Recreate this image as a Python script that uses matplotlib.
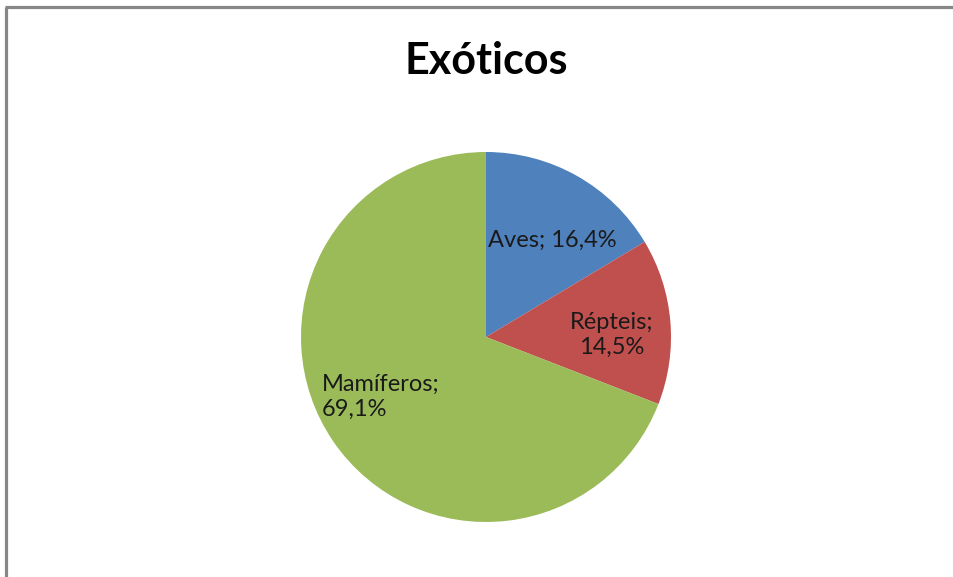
import numpy as np
import matplotlib.pyplot as plt
from matplotlib.lines import Line2D

categorias = ['Aves', 'Répteis', 'Mamíferos']
percentuais = [16.4, 14.5, 69.1]
cores = ['#4F81BD', '#C0504D', '#9BBB59']
# posição dos rótulos: fração do raio e desvio do ângulo médio (graus)
dist_rotulo = [0.637, 0.681, 0.654]
desvio_ang = [-5, -4, -4.7]
alinhamento = ['center', 'center', 'left']

W, H = 954, 577
fig = plt.figure(figsize=(W / 100, H / 100), dpi=100)

# moldura cinza (só topo e esquerda aparecem)
fig.add_artist(Line2D([6.5 / W, 6.5 / W], [0, 1 - 7 / H], color='#878787', lw=2.3,
                      solid_capstyle='butt', transform=fig.transFigure))
fig.add_artist(Line2D([5.3 / W, 1], [1 - 7 / H, 1 - 7 / H], color='#878787', lw=2.3,
                      solid_capstyle='butt', transform=fig.transFigure))

cx, cy, r = 486, 337, 185
ax = fig.add_axes([(cx - r) / W, (H - cy - r) / H, 2 * r / W, 2 * r / H])
wedges, _ = ax.pie(percentuais, colors=cores, startangle=90, counterclock=False,
                   radius=1, wedgeprops=dict(linewidth=0))
ax.set_xlim(-1, 1)
ax.set_ylim(-1, 1)
ax.set_aspect('equal')
ax.axis('off')

for w, nome, p, d, da, al in zip(wedges, categorias, percentuais, dist_rotulo,
                                 desvio_ang, alinhamento):
    ang = np.deg2rad((w.theta1 + w.theta2) / 2 + da)
    txt = f'{nome}; {p:.1f}%'.replace('.', ',')
    if nome != 'Aves':
        txt = txt.replace('; ', ';\n')
    ax.text(d * np.cos(ang), d * np.sin(ang), txt, ha='center', va='center',
            multialignment=al, fontsize=17, family='Lato', color='#1a1a1a',
            linespacing=1.22)

fig.text(486 / W, 1 - 61 / H, 'Exóticos', ha='center', va='center',
         fontsize=31, fontweight='bold', family='Lato')

fig.savefig('out.png', dpi=100)
